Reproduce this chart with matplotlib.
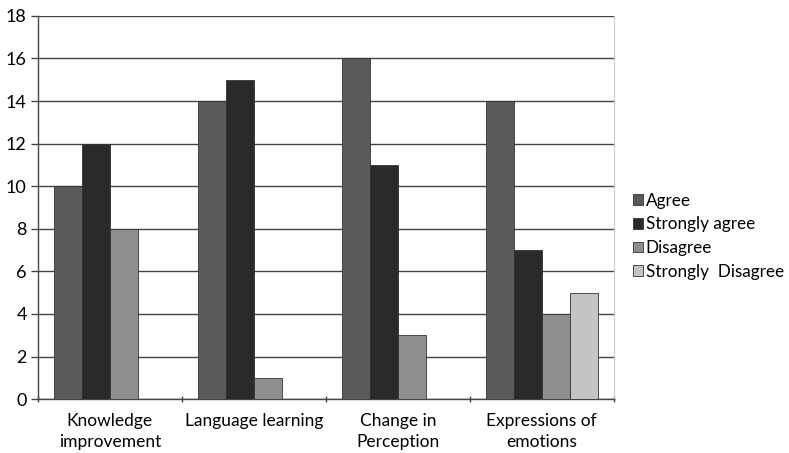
import matplotlib
matplotlib.use("Agg")
import matplotlib.pyplot as plt
import numpy as np

categories = ["Knowledge\nimprovement", "Language learning", "Change in\nPerception", "Expressions of\nemotions"]
series_names = ["Agree", "Strongly agree", "Disagree", "Strongly  Disagree"]
agree = [10, 14, 16, 14]
strongly_agree = [12, 15, 11, 7]
disagree = [8, 1, 3, 4]
strongly_disagree = [0, 0, 0, 5]
y_ticks = [0, 2, 4, 6, 8, 10, 12, 14, 16, 18]

colors = ["#5a5a5a", "#2a2a2a", "#8e8e8e", "#c4c4c4"]
values = [agree, strongly_agree, disagree, strongly_disagree]

plt.rcParams['font.family'] = ['Lato', 'DejaVu Sans']

fig = plt.figure(figsize=(7.89, 4.53), dpi=100)
ax = fig.add_axes([0.048, 0.119, 0.730, 0.846])

x = np.arange(len(categories))
w = 0.195
for i, (vals, c, name) in enumerate(zip(values, colors, series_names)):
    ax.bar(x + (i - 1.5) * w, vals, w, color=c, edgecolor="#333333", linewidth=0.6, label=name, zorder=3)

ax.set_xlim(-0.5, len(categories) - 0.5)
ax.set_ylim(0, 18)
ax.set_yticks(y_ticks)
ax.set_yticklabels([str(t) for t in y_ticks], fontsize=13)
ax.yaxis.grid(True, color="#444444", linewidth=1.0, zorder=0)
ax.set_axisbelow(True)

ax.set_xticks(x)
ax.set_xticklabels(categories, fontsize=12.5, linespacing=1.35)
ax.tick_params(axis='x', length=0, pad=10)
ax.set_xticks(np.arange(len(categories) + 1) - 0.5, minor=True)
ax.tick_params(axis='x', which='minor', length=5, width=1, color="#444444", direction='inout')
ax.tick_params(axis='y', length=5, width=1, color="#444444", direction='out', pad=3)

for s in ["left", "bottom"]:
    ax.spines[s].set_color("#444444")
    ax.spines[s].set_linewidth(1.0)
ax.spines["top"].set_visible(False)
ax.spines["right"].set_color("#cccccc")

ax.legend(loc="center left", bbox_to_anchor=(1.033, 0.425), frameon=False, fontsize=12.3,
          borderpad=0, borderaxespad=0,
          handlelength=0.6, handleheight=0.6, handletextpad=0.15, labelspacing=0.45)

fig.savefig("out.png", dpi=100)
